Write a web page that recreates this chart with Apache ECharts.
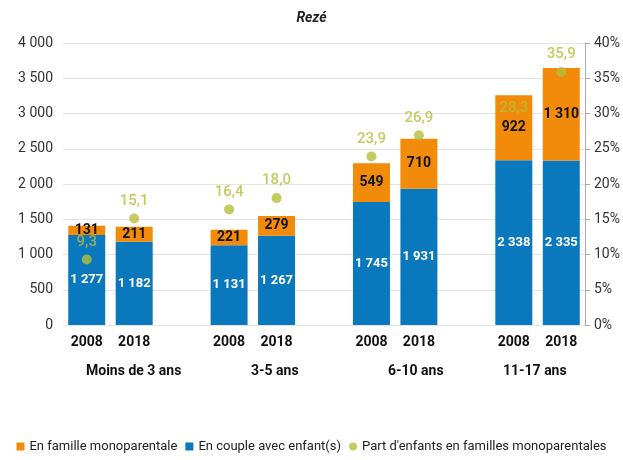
<!DOCTYPE html>
<html>
<head>
    <meta charset="utf-8">
    <title>Rezé</title>
    <script src="https://cdn.jsdelivr.net/npm/echarts@6/dist/echarts.min.js"></script>
    <style>
        html, body { margin: 0; padding: 0; background: #fff; }
        #chart { width: 623px; height: 460px; }
    </style>
</head>
<body>
<div id="chart"></div>
<script type="text/javascript">
    // données
    var years = ['2008', '2018'];
    var groups = ['Moins de 3 ans', '3-5 ans', '6-10 ans', '11-17 ans'];
    var couple = [1277, 1182, 1131, 1267, 1745, 1931, 2338, 2335];
    var mono = [131, 211, 221, 279, 549, 710, 922, 1310];
    var part = [9.3, 15.1, 16.4, 18.0, 23.9, 26.9, 28.3, 35.9];
    var leftTicks = [0, 4000, 500];
    var rightTicks = [0, 40, 5];

    var FONT = "Roboto, sans-serif";

    // axe catégoriel avec un créneau vide entre chaque tranche d'âge
    var cats = [], coupleData = [], monoData = [], partData = [];
    var k = 0;
    groups.forEach(function (g, gi) {
        if (gi > 0) {
            cats.push(' ' + gi);
            coupleData.push('-'); monoData.push('-'); partData.push('-');
        }
        years.forEach(function (y) {
            cats.push(y);
            coupleData.push(couple[k]);
            monoData.push(mono[k]);
            // le point 28,3 est caché derrière la barre sur l'original
            partData.push(part[k] === 28.3 ? { value: part[k], itemStyle: { color: 'rgba(0,0,0,0)' } } : part[k]);
            k++;
        });
    });

    function fr(n) {
        return String(n).replace(/\B(?=(\d{3})+(?!\d))/g, ' ');
    }

    var myChart = echarts.init(document.getElementById('chart'));
    myChart.setOption({
        animation: false,
        textStyle: { fontFamily: FONT },
        title: {
            text: 'Rezé',
            left: 'center',
            top: 6,
            textStyle: { fontSize: 14, fontWeight: 'bold', fontStyle: 'italic', color: '#222', fontFamily: FONT }
        },
        grid: { left: 63, right: 38, top: 43, bottom: 135 },
        legend: {
            bottom: 2,
            left: 'center',
            itemWidth: 8,
            itemHeight: 8,
            itemGap: 8,
            textStyle: { fontSize: 13, color: '#222', fontFamily: FONT },
            data: [
                { name: 'En famille monoparentale', icon: 'rect' },
                { name: 'En couple avec enfant(s)', icon: 'rect' },
                { name: "Part d'enfants en familles monoparentales", icon: 'circle' }
            ]
        },
        xAxis: {
            type: 'category',
            data: cats,
            axisLine: { show: false },
            axisTick: { show: false },
            axisLabel: {
                margin: 10,
                fontSize: 14,
                fontWeight: 'bold',
                color: '#111',
                formatter: function (v) { return v.trim().length > 1 ? v : ''; }
            }
        },
        yAxis: [{
            type: 'value',
            min: leftTicks[0],
            max: leftTicks[1],
            interval: leftTicks[2],
            axisLine: { show: false },
            axisTick: { show: false },
            axisLabel: { fontSize: 14, color: '#333', margin: 10, formatter: function (v) { return fr(v); } },
            splitLine: { lineStyle: { color: '#e3e3e3', width: 1 } }
        }, {
            type: 'value',
            min: rightTicks[0],
            max: rightTicks[1],
            interval: rightTicks[2],
            position: 'right',
            axisLine: { show: true, lineStyle: { color: '#aaa' } },
            axisTick: { show: true, length: 5, lineStyle: { color: '#aaa' } },
            axisLabel: { fontSize: 14, color: '#333', margin: 9, formatter: '{value}%' },
            splitLine: { show: false }
        }],
        graphic: [
            { type: 'text', left: 86, top: 364, style: { text: groups[0], font: 'bold 14px ' + FONT, fill: '#111' } },
            { type: 'text', left: 251, top: 364, style: { text: groups[1], font: 'bold 14px ' + FONT, fill: '#111' } },
            { type: 'text', left: 388, top: 364, style: { text: groups[2], font: 'bold 14px ' + FONT, fill: '#111' } },
            { type: 'text', left: 503, top: 364, style: { text: groups[3], font: 'bold 14px ' + FONT, fill: '#111' } }
        ],
        series: [{
            name: 'En couple avec enfant(s)',
            type: 'bar',
            stack: 'total',
            barWidth: 37,
            itemStyle: { color: '#0a78bd' },
            label: {
                show: true,
                position: 'inside',
                color: '#fff',
                fontSize: 13,
                fontWeight: 'bold',
                formatter: function (p) { return fr(p.value); }
            },
            data: coupleData
        }, {
            name: 'En famille monoparentale',
            type: 'bar',
            stack: 'total',
            barWidth: 37,
            itemStyle: { color: '#f28a0a' },
            label: {
                show: true,
                position: 'inside',
                color: '#111',
                fontSize: 14,
                fontWeight: 'bold',
                formatter: function (p) { return fr(p.value); }
            },
            data: monoData
        }, {
            name: "Part d'enfants en familles monoparentales",
            type: 'scatter',
            yAxisIndex: 1,
            symbolSize: 10,
            itemStyle: { color: '#b4be3a' },
            label: {
                show: true,
                position: 'top',
                distance: 5,
                color: '#b4be3a',
                fontSize: 15,
                fontWeight: 500,
                formatter: function (p) { return p.value.toFixed(1).replace('.', ','); }
            },
            z: 5,
            data: partData
        }]
    });
</script>
</body>
</html>
